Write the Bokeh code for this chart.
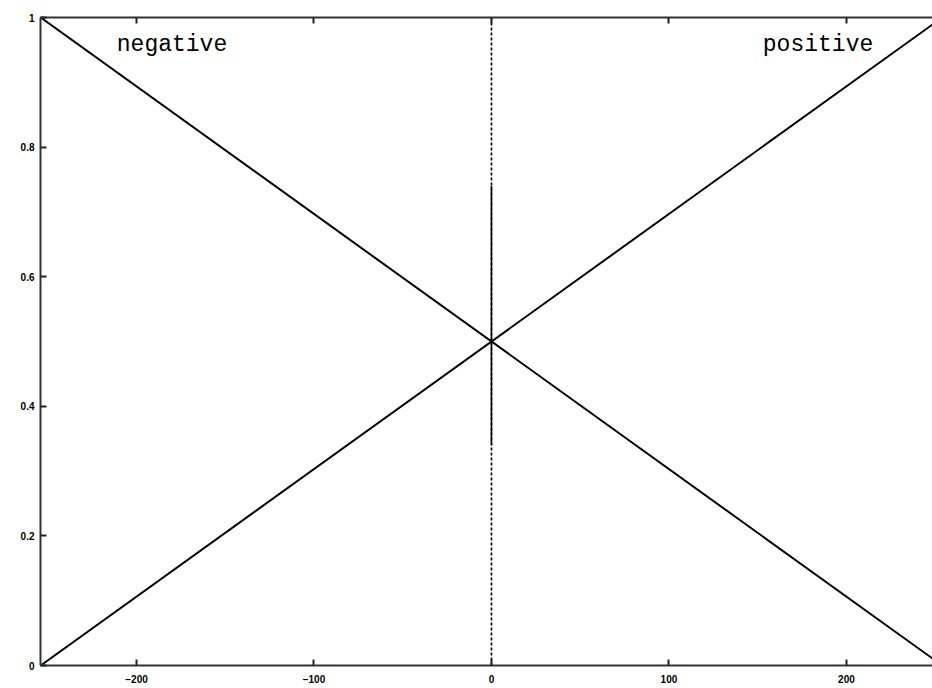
from bokeh.plotting import figure
from bokeh.models import LinearAxis, Range1d, FixedTicker
from bokeh.core.properties import value
from bokeh.embed import file_html
from bokeh.resources import INLINE

# Line end points
x_ends = [-254, 254]
negative_y = [1.0, 0.0]
positive_y = [0.0, 1.0]

# Zero divider: dashed full height, solid through the middle
divider_x = [0, 0]
divider_y = [0.0, 1.0]
divider_solid_y = [0.34, 0.74]

# Region labels
label_names = ["negative", "positive"]
label_x = [-180, 184]
label_y = [0.957, 0.957]

# Ticks
x_ticks = [-200, -100, 0, 100, 200]
y_ticks = [0, 0.2, 0.4, 0.6, 0.8, 1]
y_tick_labels = {0: "0", 0.2: "0.2", 0.4: "0.4", 0.6: "0.6", 0.8: "0.8", 1: "1"}

p = figure(width=932, height=688, output_backend="svg", toolbar_location=None,
           x_range=Range1d(-254.1, 248.5), y_range=Range1d(0, 1),
           x_axis_location=None, y_axis_location=None,
           min_border_left=40, min_border_right=0, min_border_top=17, min_border_bottom=23)
p.outline_line_color = None
p.grid.visible = False
p.background_fill_color = "white"
p.border_fill_color = "white"


def style_axis(ax, labels=True):
    ax.axis_line_width = 2
    ax.axis_line_color = "#333333"
    ax.major_tick_in = 6
    ax.major_tick_out = 0
    ax.major_tick_line_width = 2
    ax.major_tick_line_color = "#222222"
    ax.minor_tick_line_color = None
    ax.major_label_text_font = "Liberation Sans"
    ax.major_label_text_font_size = "10px"
    ax.major_label_text_font_style = "bold"
    ax.major_label_text_color = "black" if labels else None


bottom = LinearAxis(ticker=FixedTicker(ticks=x_ticks))
style_axis(bottom)
bottom.major_label_standoff = 9
p.add_layout(bottom, "below")

top = LinearAxis(ticker=FixedTicker(ticks=x_ticks))
style_axis(top, labels=False)
top.major_label_text_font_size = "1px"
top.major_label_standoff = 0
p.add_layout(top, "above")

left = LinearAxis(ticker=FixedTicker(ticks=y_ticks),
                  major_label_overrides=y_tick_labels)
style_axis(left)
left.major_label_standoff = 6
p.add_layout(left, "left")

p.line(x_ends, negative_y, line_color="black", line_width=2)
p.line(x_ends, positive_y, line_color="black", line_width=2)
p.line(divider_x, divider_y, line_color="black", line_width=1.6, line_dash="3 2")
p.line(divider_x, divider_solid_y, line_color="black", line_width=1.6)

p.text(x=label_x, y=label_y, text=label_names,
       text_font=value("Liberation Mono"), text_font_size="23px",
       text_align="center", text_baseline="middle", text_color="black")

open("out.html", "w").write(file_html(p, INLINE))
